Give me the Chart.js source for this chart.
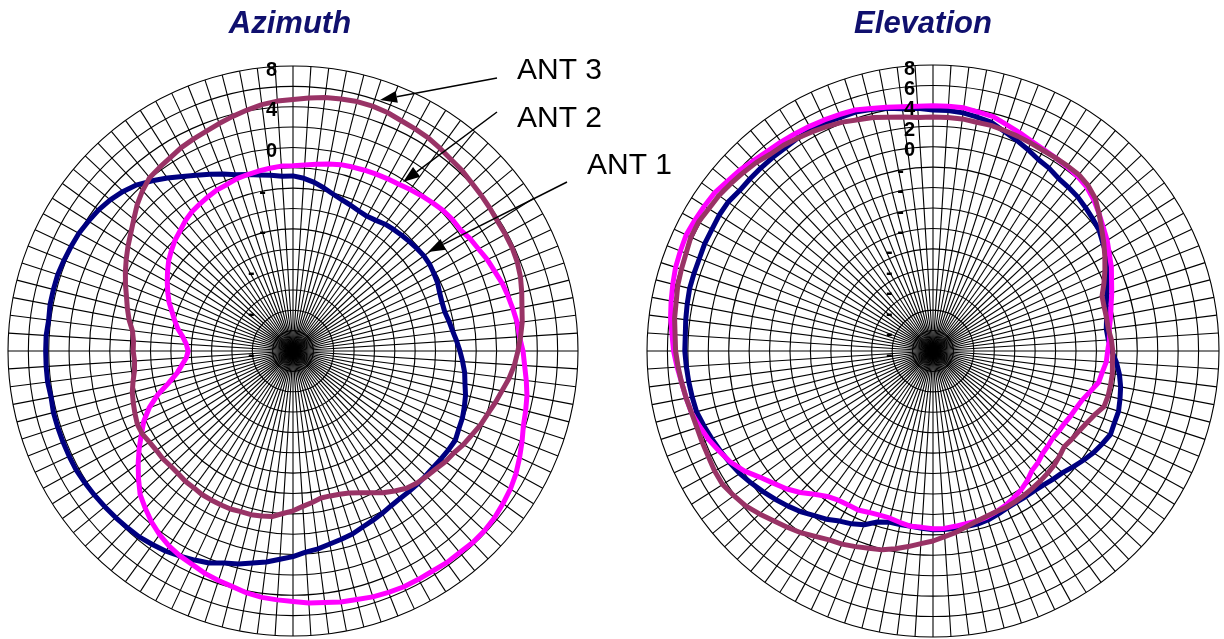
<!DOCTYPE html>
<html>
<head>
<meta charset="utf-8">
<script src="https://cdn.jsdelivr.net/npm/chart.js@4.4.1/dist/chart.umd.min.js"></script>
<style>
  html, body { margin: 0; padding: 0; background: #ffffff; }
  body { width: 1224px; height: 639px; position: relative; overflow: hidden; }
  canvas { position: absolute; top: 0; }
  #azimuth { left: 0; }
  #elevation { left: 640px; }
</style>
</head>
<body>
<canvas id="azimuth" width="700" height="639"></canvas>
<canvas id="elevation" width="584" height="639"></canvas>
<script>
// 100 bearings, 3.6 degrees apart, clockwise from the top
const bearings = Array.from({ length: 100 }, (_, i) => (i * 3.6).toFixed(1));

const seriesNames = ['ANT 1', 'ANT 2', 'ANT 3'];
const seriesColors = ['#000080', '#ff00ff', '#993366'];

// Gain readings (dB), one per bearing
const azimuthAnt1 = [
  -2.8, -3.0, -3.3, -3.7, -4.1, -4.4, -4.6, -4.8, -4.9, -4.8,
  -4.6, -4.5, -4.4, -4.3, -4.2, -4.1, -4.1, -4.2, -4.3, -4.5,
  -4.6, -4.6, -4.4, -4.2, -3.9, -3.6, -3.3, -3.0, -2.8, -2.5,
  -2.3, -2.1, -2.0, -1.8, -1.9, -2.0, -2.1, -2.1, -2.1, -2.1,
  -2.1, -2.0, -1.8, -1.6, -1.4, -1.1, -0.9, -0.7, -0.4, -0.2,
  0.2, 0.5, 0.9, 1.2, 1.6, 1.9, 2.4, 2.7, 3.0, 3.3,
  3.5, 3.7, 3.8, 3.9, 4.0, 4.1, 4.2, 4.3, 4.3, 4.3,
  4.3, 4.3, 4.2, 4.3, 4.3, 4.3, 4.3, 4.2, 4.3, 4.3,
  4.3, 4.2, 4.1, 4.0, 3.8, 3.6, 3.3, 2.9, 2.4, 1.7,
  1.0, 0.3, -0.3, -0.8, -1.3, -1.8, -2.1, -2.4, -2.6, -2.8
];
const azimuthAnt2 = [
  -1.8, -1.7, -1.5, -1.3, -1.1, -1.0, -0.9, -0.8, -0.7, -0.6,
  -0.4, -0.2, 0.0, 0.2, 0.3, 0.3, 0.6, 0.8, 1.1, 1.3,
  1.6, 1.8, 2.0, 2.2, 2.3, 2.6, 2.8, 3.1, 3.4, 3.6,
  3.8, 4.2, 4.6, 5.0, 5.3, 5.5, 5.7, 5.8, 5.8, 5.7,
  5.7, 5.6, 5.6, 5.6, 5.5, 5.4, 5.2, 5.1, 4.9, 4.8,
  4.6, 4.5, 4.4, 4.2, 3.9, 3.7, 3.5, 3.2, 3.0, 2.7,
  2.3, 1.8, 1.2, 0.6, -0.3, -1.2, -2.1, -3.0, -3.8, -4.8,
  -6.0, -7.4, -8.4, -9.0, -9.5, -9.7, -9.5, -9.1, -8.5, -8.0,
  -7.5, -6.9, -6.4, -5.9, -5.4, -4.9, -4.5, -4.1, -3.8, -3.4,
  -3.1, -2.9, -2.7, -2.5, -2.4, -2.2, -2.1, -2.0, -1.9, -1.8
];
const azimuthAnt3 = [
  4.7, 4.9, 5.1, 5.2, 5.3, 5.3, 5.2, 5.0, 4.9, 4.8,
  4.6, 4.4, 4.3, 4.1, 4.0, 3.9, 3.8, 3.8, 3.8, 3.7,
  3.5, 3.2, 2.9, 2.7, 2.4, 2.1, 1.8, 1.4, 0.9, 0.5,
  0.1, -0.2, -0.6, -0.9, -1.3, -1.5, -1.8, -2.0, -2.2, -2.5,
  -3.0, -3.5, -4.1, -4.6, -5.0, -5.2, -5.3, -5.3, -5.0, -4.7,
  -4.3, -4.0, -3.6, -3.5, -3.4, -3.4, -3.3, -3.3, -3.3, -3.3,
  -3.4, -3.4, -3.5, -3.5, -3.4, -3.4, -3.3, -3.1, -3.1, -3.3,
  -3.5, -3.7, -4.0, -4.3, -4.4, -4.3, -4.3, -4.1, -3.6, -3.2,
  -2.8, -2.3, -1.8, -1.3, -0.8, -0.3, 0.3, 1.0, 1.6, 2.1,
  2.3, 2.5, 2.8, 3.0, 3.2, 3.5, 3.8, 4.1, 4.4, 4.6
];

const elevationAnt1 = [
  3.6, 3.6, 3.5, 3.3, 3.1, 2.6, 2.2, 1.8, 1.4, 1.2,
  0.9, 0.8, 0.7, 0.5, 0.3, 0.1, -0.3, -0.6, -1.1, -1.6,
  -2.1, -2.5, -2.7, -2.9, -2.8, -2.5, -2.0, -1.6, -1.3, -1.1,
  -0.9, -0.9, -0.8, -1.1, -1.4, -1.8, -2.2, -2.6, -2.8, -3.0,
  -3.1, -3.1, -3.1, -3.0, -2.8, -2.6, -2.5, -2.5, -2.5, -2.5,
  -2.5, -2.6, -2.7, -2.7, -2.7, -2.4, -1.7, -1.3, -1.0, -0.5,
  -0.1, 0.4, 0.8, 1.2, 1.6, 2.0, 2.4, 2.7, 3.0, 3.3,
  3.6, 3.9, 4.0, 4.1, 4.2, 4.3, 4.3, 4.4, 4.5, 4.6,
  4.6, 4.6, 4.7, 4.7, 4.8, 4.8, 4.6, 4.6, 4.6, 4.6,
  4.6, 4.7, 4.7, 4.7, 4.6, 4.6, 4.4, 4.2, 3.9, 3.8
];
const elevationAnt2 = [
  4.0, 4.0, 4.0, 3.8, 3.7, 3.3, 3.0, 2.7, 2.5, 2.4,
  2.3, 2.2, 2.0, 1.6, 1.1, 0.6, 0.2, -0.3, -0.7, -1.2,
  -1.6, -2.0, -2.3, -2.6, -2.7, -2.9, -3.0, -3.3, -3.5, -4.1,
  -4.6, -4.9, -5.1, -5.3, -5.4, -5.5, -5.4, -5.3, -5.0, -4.8,
  -4.3, -3.9, -3.6, -3.3, -3.1, -2.9, -2.8, -2.8, -2.7, -2.6,
  -2.6, -2.7, -2.7, -2.9, -3.1, -3.1, -3.0, -2.8, -2.8, -2.7,
  -2.4, -1.8, -1.0, -0.3, 0.3, 1.0, 1.9, 2.6, 3.1, 3.6,
  4.0, 4.4, 4.6, 4.8, 5.1, 5.4, 5.6, 5.9, 6.1, 6.3,
  6.5, 6.6, 6.7, 6.6, 6.5, 6.4, 6.1, 5.9, 5.6, 5.4,
  5.3, 5.2, 5.1, 5.0, 4.9, 4.8, 4.5, 4.3, 4.1, 4.0
];
const elevationAnt3 = [
  2.9, 2.9, 2.9, 2.8, 2.8, 2.7, 2.6, 2.5, 2.4, 2.4,
  2.4, 2.4, 2.2, 1.8, 1.1, 0.4, -0.2, -0.8, -1.4, -2.0,
  -2.6, -2.7, -2.7, -2.7, -2.5, -2.4, -2.4, -2.3, -2.3, -2.3,
  -2.4, -3.0, -3.4, -3.7, -3.9, -4.1, -3.9, -3.7, -3.6, -3.5,
  -3.4, -3.3, -3.2, -3.1, -3.1, -3.0, -2.8, -2.5, -2.1, -1.8,
  -1.4, -1.1, -0.7, -0.3, 0.1, 0.3, 0.6, 0.9, 1.1, 1.5,
  2.0, 2.4, 2.8, 3.3, 3.8, 4.1, 4.4, 4.4, 4.3, 4.3,
  4.3, 4.4, 4.6, 4.8, 5.0, 5.2, 5.3, 5.5, 5.6, 5.8,
  5.9, 6.0, 6.2, 6.2, 6.0, 5.9, 5.7, 5.5, 5.3, 5.0,
  4.9, 4.7, 4.5, 4.3, 4.1, 3.8, 3.6, 3.3, 3.1, 2.9
];

// Radial axis: range and labelled values
const gainMin = -20;
const gainMax = 8;
const ringStep = 2;
const azimuthTickLabels = [8, 4, 0, -4, -8, -12, -16, -20];
const elevationTickLabels = [8, 6, 4, 2, 0, -2, -4, -6, -8, -10, -12, -14, -16, -18, -20];

const FONT = '"Liberation Sans", Arial, Helvetica, sans-serif';

// Chart heading, drawn in the band above the plot area
const headingPlugin = {
  id: 'heading',
  afterDraw(chart, args, opts) {
    const s = chart.scales.r, ctx = chart.ctx;
    ctx.save();
    ctx.font = 'italic bold 31px ' + FONT;
    ctx.fillStyle = '#10106e';
    ctx.textAlign = 'center';
    ctx.textBaseline = 'alphabetic';
    ctx.fillText(opts.text, s.xCenter + opts.dx, opts.baseline);
    ctx.restore();
  }
};

// Gain labels stacked up the vertical spoke, right-aligned left of it;
// negative values only show their minus sign
const gainLabelPlugin = {
  id: 'gainLabels',
  afterDatasetsDraw(chart, args, opts) {
    const s = chart.scales.r, ctx = chart.ctx;
    const xr = s.xCenter - opts.inset;
    ctx.save();
    ctx.font = 'bold 20px ' + FONT;
    ctx.fillStyle = '#000';
    ctx.textAlign = 'right';
    ctx.textBaseline = 'middle';
    opts.values.forEach(v => {
      const y = s.yCenter - s.getDistanceFromCenterForValue(v) + 4;
      if (v < 0) {
        const digitsWidth = ctx.measureText(String(-v)).width;
        ctx.fillText('-', xr - digitsWidth, y);
      } else {
        ctx.fillText(String(v), xr, y);
      }
    });
    ctx.restore();
  }
};

// Callout labels with arrows, placed relative to the plot centre
const calloutPlugin = {
  id: 'callouts',
  afterDraw(chart, args, opts) {
    const s = chart.scales.r, ctx = chart.ctx;
    const cx = s.xCenter, cy = s.yCenter;
    ctx.save();
    ctx.font = '30px ' + FONT;
    ctx.fillStyle = '#000';
    ctx.strokeStyle = '#000';
    ctx.lineWidth = 1.5;
    opts.items.forEach(c => {
      ctx.textAlign = 'left';
      ctx.textBaseline = 'alphabetic';
      ctx.fillText(c.text, cx + c.textAt[0], cy + c.textAt[1]);
      const x0 = cx + c.from[0], y0 = cy + c.from[1];
      const x1 = cx + c.to[0], y1 = cy + c.to[1];
      const a = Math.atan2(y1 - y0, x1 - x0);
      const L = 17, W = 6;
      const bx = x1 - L * Math.cos(a), by = y1 - L * Math.sin(a);
      ctx.beginPath();
      ctx.moveTo(x0, y0);
      ctx.lineTo(bx, by);
      ctx.stroke();
      ctx.beginPath();
      ctx.moveTo(x1, y1);
      ctx.lineTo(bx + W * Math.sin(a), by - W * Math.cos(a));
      ctx.lineTo(bx - W * Math.sin(a), by + W * Math.cos(a));
      ctx.closePath();
      ctx.fill();
    });
    ctx.restore();
  }
};

function makeDatasets(values) {
  // ANT 3 on top, then ANT 2, ANT 1 underneath
  const stacking = [3, 2, 1];
  return values.map((data, i) => ({
    label: seriesNames[i],
    data: data,
    borderColor: seriesColors[i],
    backgroundColor: 'transparent',
    borderWidth: 5,
    borderJoinStyle: 'round',
    borderCapStyle: 'round',
    pointRadius: 0,
    pointHoverRadius: 0,
    fill: false,
    tension: 0,
    order: stacking[i]
  }));
}

function radialScale() {
  return {
    min: gainMin,
    max: gainMax,
    startAngle: 0,
    ticks: { display: false, stepSize: ringStep, maxTicksLimit: 30 },
    grid: { circular: true, color: '#000000', lineWidth: 1.1 },
    angleLines: { display: true, color: '#000000', lineWidth: 1.1 },
    pointLabels: { display: false }
  };
}

function baseOptions(padding, extraPlugins) {
  return {
    responsive: false,
    animation: false,
    events: [],
    layout: { padding: padding },
    scales: { r: radialScale() },
    plugins: Object.assign({
      legend: { display: false },
      title: { display: false },
      tooltip: { enabled: false }
    }, extraPlugins)
  };
}

new Chart(document.getElementById('azimuth'), {
  type: 'radar',
  data: {
    labels: bearings,
    datasets: makeDatasets([azimuthAnt1, azimuthAnt2, azimuthAnt3])
  },
  options: baseOptions({ left: 8, right: 122, top: 66, bottom: 3 }, {
    heading: { text: 'Azimuth', dx: -3, baseline: 33 },
    gainLabels: { values: azimuthTickLabels, inset: 16 },
    callouts: {
      items: [
        { text: 'ANT 3', textAt: [224, -272], from: [204, -273], to: [87, -251] },
        { text: 'ANT 2', textAt: [224, -224], from: [204, -239], to: [110, -169] },
        { text: 'ANT 1', textAt: [294, -177], from: [274, -169], to: [135, -99] }
      ]
    }
  }),
  plugins: [headingPlugin, gainLabelPlugin, calloutPlugin]
});

new Chart(document.getElementById('elevation'), {
  type: 'radar',
  data: {
    labels: bearings,
    datasets: makeDatasets([elevationAnt1, elevationAnt2, elevationAnt3])
  },
  options: baseOptions({ left: 7, right: 5, top: 65, bottom: 2 }, {
    heading: { text: 'Elevation', dx: -10, baseline: 33 },
    gainLabels: { values: elevationTickLabels, inset: 18 }
  }),
  plugins: [headingPlugin, gainLabelPlugin]
});
</script>
</body>
</html>
